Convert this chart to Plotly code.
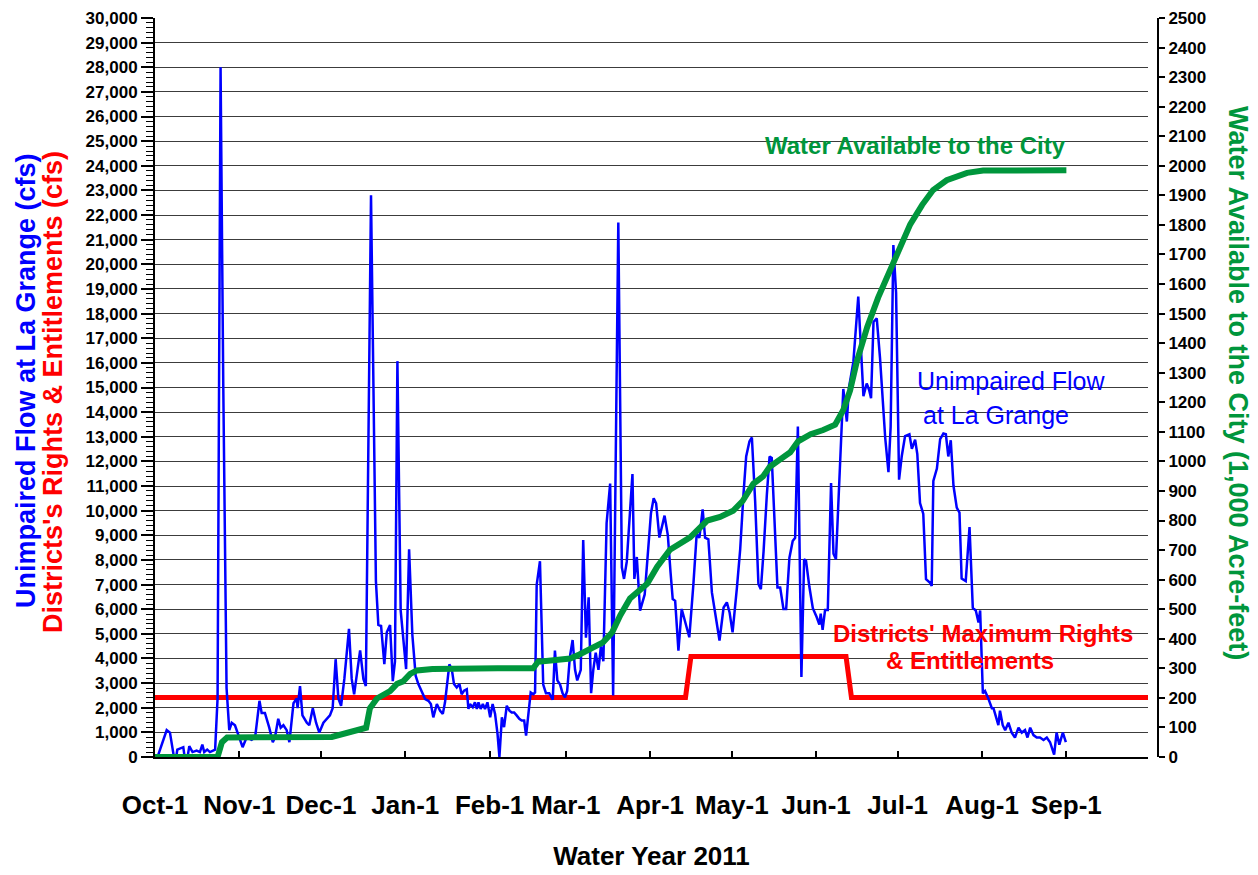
import pandas as pd
import plotly.graph_objects as go

START = pd.Timestamp("2010-10-01")

# Unimpaired flow at La Grange (cfs), read at days after Oct-1-2010
flow_day = [0.0, 4.3, 5.5, 7.4, 8.2, 9.8, 10.4, 11.4, 12.6, 13.8, 15.3, 16.5, 17.4, 18.1, 19.2, 20.2,
            22.1, 23.0, 24.1, 25.1, 26.3, 27.3, 28.2, 29.4, 30.6, 32.2, 33.7, 35.5, 36.8, 38.4, 39.2,
            40.4, 42.0, 43.3, 44.1, 45.3, 46.2, 47.2, 48.4, 49.4, 50.9, 52.1, 52.4, 53.3, 54.2, 55.8,
            56.7, 58.0, 59.2, 60.4, 61.9, 63.1, 64.3, 65.3, 66.4, 67.4, 68.4, 69.6, 71.3, 72.3, 73.2,
            75.4, 76.6, 77.5, 79.4, 81.2, 82.1, 83.1, 84.3, 85.2, 86.4, 87.4, 88.2, 89.1, 90.3, 92.3,
            93.4, 94.6, 95.8, 96.8, 98.0, 99.3, 100.5, 101.4, 102.3, 103.6, 104.8, 105.8, 106.6, 107.5,
            108.2, 109.1, 109.9, 110.9, 111.9, 112.7, 113.6, 114.6, 115.2, 115.8, 116.8, 117.6, 118.3,
            118.9, 119.7, 120.5, 121.3, 122.2, 123.2, 124.1, 125.0, 125.9, 126.6, 127.5, 128.3, 129.3,
            130.3, 131.1, 132.0, 133.0, 133.9, 134.8, 135.7, 136.4, 137.3, 138.1, 139.1, 139.7, 140.3,
            141.5, 142.7, 143.7, 144.9, 146.2, 147.0, 147.9, 148.9, 149.8, 150.7, 151.5, 152.5, 153.5,
            154.4, 155.2, 156.5, 157.4, 158.4, 159.4, 160.3, 161.1, 162.0, 163.0, 163.9, 164.8, 166.0,
            167.3, 168.4, 170.3, 171.6, 172.4, 173.4, 175.5, 176.2, 177.1, 178.3, 180.0, 182.3, 183.3,
            184.2, 185.4, 187.3, 188.5, 189.5, 190.3, 191.2, 192.4, 193.6, 195.2, 196.4, 197.9, 199.1,
            200.1, 201.3, 202.2, 203.4, 204.7, 206.3, 207.5, 209.0, 210.2, 211.2, 212.3, 213.9, 215.1,
            216.3, 217.3, 218.5, 219.4, 220.6, 221.8, 222.7, 223.7, 224.9, 225.9, 226.7, 228.0, 228.8,
            229.8, 231.0, 232.0, 233.2, 234.4, 235.3, 236.3, 237.6, 238.6, 239.3, 240.5, 241.8, 243.2,
            244.2, 244.7, 245.4, 246.3, 247.3, 248.5, 249.4, 250.3, 251.6, 253.0, 254.3, 255.1, 256.7,
            258.5, 259.4, 260.4, 261.6, 262.5, 263.2, 264.1, 265.3, 266.5, 268.4, 269.6, 270.4, 271.4,
            272.4, 273.5, 274.5, 275.7, 277.3, 278.2, 279.4, 280.2, 281.2, 282.4, 283.4, 284.9, 285.5,
            286.1, 287.4, 288.6, 289.8, 290.7, 291.6, 292.5, 293.5, 294.7, 295.7, 296.5, 298.0, 299.4,
            300.6, 301.7, 302.7, 303.3, 304.3, 305.1, 306.3, 307.6, 308.2, 309.2, 310.0, 310.6, 311.6,
            312.5, 313.7, 314.9, 316.1, 317.4, 318.6, 319.8, 320.7, 321.7, 322.9, 324.1, 325.3, 326.6,
            327.8, 329.0, 330.5, 331.4, 332.4, 333.7, 334.8]
flow_cfs = [-300, 1090, 990, -300, 300, 360, 400, -400, 440, 200, 260, 200, 500, 200, 300, 200,
            300, 2380, 28000, 15000, 2800, 1090, 1390, 1290, 890, 400, 800, 700, 800, 2280, 1790,
            1790, 1190, 600, 800, 1550, 1190, 1290, 1090, 600, 2180, 2380, 1980, 2880, 1690, 1390,
            1290, 1980, 1390, 990, 1390, 1550, 1690, 1980, 3970, 2380, 2080, 3170, 5200, 3170, 2540,
            4330, 3170, 2880, 22800, 7140, 5360, 5320, 3770, 5060, 5360, 3080, 3870, 16070, 5950, 3570,
            8430, 4960, 3300, 2960, 2690, 2350, 2280, 2150, 1610, 2150, 1880, 1750, 2220, 2960,
            3760, 3560, 2960, 2820, 2960, 2550, 2690, 2750, 1950, 2150, 2020, 2220, 1950,
            2220, 1950, 2150, 1950, 2220, 1610, 2150, 1750, 940, 0, 1610, 1210, 2080,
            1880, 1810, 1810, 1680, 1550, 1480, 1480, 870, 1750, 2620, 2550, 2620, 6990,
            7950, 2940, 2590, 2590, 2330, 4320, 3110, 2940, 2590, 2420, 2680, 4060, 4750,
            3540, 3110, 3540, 8810, 4840, 6480, 2590, 3540, 4230, 3540, 4490, 3890, 9500,
            11100, 2500, 21700, 7700, 7230, 7920, 11490, 7230, 8120, 5940, 6600, 9900, 10500,
            10300, 8910, 9800, 9010, 7500, 6410, 6340, 4320, 6010, 5330, 4860, 7020, 9040,
            8900, 10050, 8900, 8840, 6680, 5600, 4730, 6070, 6280, 5870, 5060, 6880, 8430,
            10650, 12200, 12810, 12970, 10380, 7020, 6810, 8360, 10650, 12200, 12140, 8770, 6880,
            6880, 6010, 6010, 8090, 8770, 8900, 13420, 3250, 8030, 7960, 6930, 6040, 5680,
            5380, 5820, 5160, 5970, 5970, 11120, 8250, 8030, 11340, 14940, 13620, 15000, 16040,
            18690, 16780, 14650, 15160, 14900, 14570, 17660, 17810, 16190, 12960, 11560, 13400, 20780,
            18840, 11260, 12220, 13030, 13100, 12510, 12880, 12300, 10310, 9870, 7220, 7070, 6940,
            11210, 11710, 12900, 13130, 13100, 12200, 12860, 11010, 10120, 9920, 7240, 7140, 9330,
            6050, 5950, 5460, 5950, 2580, 2680, 2380, 1980, 1980, 1590, 1290, 1880, 1290,
            1090, 1390, 990, 790, 1190, 990, 1090, 790, 1190, 890, 790, 790, 690,
            790, 600, 100, 990, 500, 990, 600]

# Districts' maximum rights & entitlements (cfs)
rights_date = ["2010-10-01", "2011-04-14", "2011-04-16", "2011-06-12", "2011-06-14", "2011-10-01"]
rights_cfs = [2420, 2420, 4080, 4080, 2420, 2420]

# Water available to the City (1,000 acre-feet), cumulative
city_day = [0, 23.0, 24.6, 26.5, 65.0, 70.2, 75.4, 77.6, 79.0, 81.6, 86.4, 89.0, 91.2, 93.8, 96.3,
            102.0, 126.0, 139.0, 140.8, 148.0, 152.6, 156.0, 160.0, 164.7, 168.0, 171.0, 174.6,
            180.9, 184.6, 189.3, 196.7, 203.0, 207.7, 212.5, 216.0, 219.9, 223.5, 226.0, 229.8,
            233.5, 236.4, 241.0, 245.6, 250.0, 253.0, 255.5, 258.0, 261.8, 265.8, 270.2, 273.9,
            277.6, 282.0, 286.0, 291.0, 298.5, 304.4, 335.0]
city_kaf = [0, 0, 50, 66, 68, 80, 91, 99, 165, 198, 223, 248, 256, 281, 293,
            298, 300, 300, 322, 330, 333, 347, 366, 388, 421, 479, 536,
            586, 644, 701, 743, 800, 812, 833, 866, 924, 949, 982, 1007,
            1031, 1068, 1092, 1106, 1124, 1174, 1240, 1339, 1455, 1554, 1645, 1728,
            1802, 1868, 1918, 1951, 1976, 1984, 1985]

month_ticks = ["2010-10-01", "2010-11-01", "2010-12-01", "2011-01-01", "2011-02-01", "2011-03-01",
               "2011-04-01", "2011-05-01", "2011-06-01", "2011-07-01", "2011-08-01", "2011-09-01"]
month_labels = ["Oct-1", "Nov-1", "Dec-1", "Jan-1", "Feb-1", "Mar-1",
                "Apr-1", "May-1", "Jun-1", "Jul-1", "Aug-1", "Sep-1"]

BLUE = "#0000FF"
RED = "#FF0000"
GREEN = "#00963C"
FONT = "Arial, Liberation Sans, sans-serif"

flow_x = [START + pd.Timedelta(days=d) for d in flow_day]
city_x = [START + pd.Timedelta(days=d) for d in city_day]

fig = go.Figure()
fig.add_trace(go.Scatter(x=pd.to_datetime(rights_date), y=rights_cfs, mode="lines",
                         line=dict(color=RED, width=5), hoverinfo="skip", showlegend=False))
fig.add_trace(go.Scatter(x=flow_x, y=flow_cfs, mode="lines",
                         line=dict(color=BLUE, width=2.5), showlegend=False))
fig.add_trace(go.Scatter(x=city_x, y=city_kaf, mode="lines", yaxis="y2",
                         line=dict(color=GREEN, width=6), showlegend=False))

# the page body adds an 8px margin, so the figure is laid out in page pixels minus 8
OFF = 8
W, H = 1258 - OFF, 875 - OFF
PLOT_L, PLOT_R, PLOT_T, PLOT_B, Y2_X = 155, 1148, 18, 757, 1158   # page pixels
ML, MT = PLOT_L - OFF, PLOT_T - OFF
MR = W - (Y2_X - OFF)
MB = H - (PLOT_B - OFF)
PW = W - ML - MR
PH = H - MT - MB


def px(xp):
    return (xp - PLOT_L) / PW


def py(yp):
    return (PLOT_B - yp) / PH


bold = dict(family=FONT, color="black", weight="bold")

fig.update_layout(
    width=W, height=H,
    margin=dict(l=ML, r=MR, t=MT, b=MB, pad=0, autoexpand=False),
    paper_bgcolor="white", plot_bgcolor="white",
    showlegend=False,
    xaxis=dict(
        type="date", domain=[0, (PLOT_R - PLOT_L) / PW],
        range=["2010-10-01", "2011-10-01"],
        tickvals=month_ticks, ticktext=month_labels,
        ticks="inside", ticklen=6, tickwidth=2, tickcolor="black",
        showline=True, linecolor="black", linewidth=2,
        showgrid=False, zeroline=False, automargin=True,
        tickfont=dict(size=26, **bold),
        ticklabelstandoff=24,
        title=dict(text="Water Year 2011", font=dict(size=26, **bold), standoff=28),
    ),
    yaxis=dict(
        range=[0, 30000], dtick=1000, tickformat=",",
        showgrid=True, gridcolor="#3c3c3c", gridwidth=1,
        showline=True, linecolor="black", linewidth=2,
        ticks="outside", ticklen=12, tickwidth=2, tickcolor="black",
        minor=dict(dtick=200, ticks="outside", ticklen=7, tickwidth=1, tickcolor="black", showgrid=False),
        zeroline=False, automargin=False, ticklabeloverflow="allow",
        tickfont=dict(size=17, **bold),
    ),
    yaxis2=dict(
        overlaying="y", side="right", anchor="free", position=1.0,
        range=[0, 2500], dtick=100,
        showgrid=False, zeroline=False, automargin=False, ticklabeloverflow="allow",
        showline=True, linecolor="black", linewidth=2,
        ticks="outside", ticklen=6, tickwidth=2, tickcolor="black",
        tickfont=dict(size=17, **bold),
    ),
)

ann = [
    dict(text="Unimpaired Flow at La Grange (cfs)", x=px(26), y=py(381), textangle=-90,
         font=dict(size=27, family=FONT, color=BLUE, weight="bold")),
    dict(text="Districts's Rights & Entitlements (cfs)", x=px(53), y=py(392), textangle=-90,
         font=dict(size=27, family=FONT, color=RED, weight="bold")),
    dict(text="Water Available to the City (1,000 Acre-feet)", x=px(1238), y=py(383), textangle=90,
         font=dict(size=27, family=FONT, color=GREEN, weight="bold")),
    dict(text="Water Available to the City", x=px(915), y=py(145),
         font=dict(size=24, family=FONT, color=GREEN, weight="bold")),
    dict(text="Unimpaired Flow", x=px(1011), y=py(381),
         font=dict(size=25, family=FONT, color=BLUE)),
    dict(text="at La Grange", x=px(996), y=py(415),
         font=dict(size=25, family=FONT, color=BLUE)),
    dict(text="Districts' Maximum Rights", x=px(983), y=py(633),
         font=dict(size=24, family=FONT, color=RED, weight="bold")),
    dict(text="& Entitlements", x=px(970), y=py(660),
         font=dict(size=24, family=FONT, color=RED, weight="bold")),
]
for a in ann:
    fig.add_annotation(xref="paper", yref="paper", showarrow=False,
                       xanchor="center", yanchor="middle", **a)

fig.write_html("out.html")
